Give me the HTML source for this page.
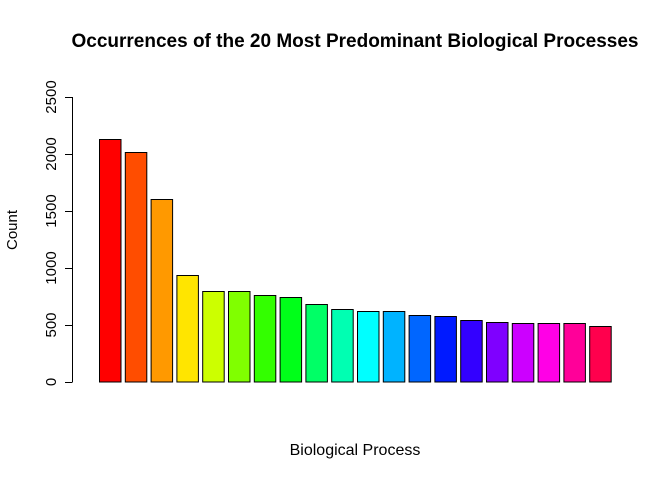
<!DOCTYPE html>
<html><head><meta charset="utf-8"><style>body{margin:0;background:#fff}svg{display:block}</style></head>
<body>
<svg width="672" height="480" xmlns="http://www.w3.org/2000/svg" font-family="Liberation Sans, sans-serif">
<rect width="672" height="480" fill="#fff"/>
<text x="355" y="47" text-anchor="middle" font-size="19" font-weight="bold">Occurrences of the 20 Most Predominant Biological Processes</text>
<text x="355" y="455" text-anchor="middle" font-size="16">Biological Process</text>
<text transform="translate(17,230) rotate(-90)" text-anchor="middle" font-size="15">Count</text>
<g stroke="#000" stroke-width="1" fill="none">
<line x1="72.5" y1="97" x2="72.5" y2="382"/>
<line x1="65" y1="382.5" x2="72.5" y2="382.5"/>
<line x1="65" y1="325.5" x2="72.5" y2="325.5"/>
<line x1="65" y1="268.5" x2="72.5" y2="268.5"/>
<line x1="65" y1="211.5" x2="72.5" y2="211.5"/>
<line x1="65" y1="154.5" x2="72.5" y2="154.5"/>
<line x1="65" y1="97.5" x2="72.5" y2="97.5"/>
</g>
<g font-size="15" text-anchor="middle">
<text transform="translate(56,382) rotate(-90)">0</text>
<text transform="translate(56,325) rotate(-90)">500</text>
<text transform="translate(56,268) rotate(-90)">1000</text>
<text transform="translate(56,211) rotate(-90)">1500</text>
<text transform="translate(56,154) rotate(-90)">2000</text>
<text transform="translate(56,97) rotate(-90)">2500</text>
</g>
<g stroke="#000" stroke-width="1">
<rect x="99.5" y="139.5" width="21.5" height="242.5" fill="#FF0000"/>
<rect x="125.3" y="152.5" width="21.5" height="229.5" fill="#FF4D00"/>
<rect x="151.1" y="199.5" width="21.5" height="182.5" fill="#FF9900"/>
<rect x="176.9" y="275.5" width="21.5" height="106.5" fill="#FFE500"/>
<rect x="202.7" y="291.5" width="21.5" height="90.5" fill="#CCFF00"/>
<rect x="228.5" y="291.5" width="21.5" height="90.5" fill="#80FF00"/>
<rect x="254.3" y="295.5" width="21.5" height="86.5" fill="#33FF00"/>
<rect x="280.1" y="297.5" width="21.5" height="84.5" fill="#00FF19"/>
<rect x="305.9" y="304.5" width="21.5" height="77.5" fill="#00FF66"/>
<rect x="331.7" y="309.5" width="21.5" height="72.5" fill="#00FFB2"/>
<rect x="357.5" y="311.5" width="21.5" height="70.5" fill="#00FFFF"/>
<rect x="383.3" y="311.5" width="21.5" height="70.5" fill="#00B3FF"/>
<rect x="409.1" y="315.5" width="21.5" height="66.5" fill="#0066FF"/>
<rect x="434.9" y="316.5" width="21.5" height="65.5" fill="#001AFF"/>
<rect x="460.7" y="320.5" width="21.5" height="61.5" fill="#3300FF"/>
<rect x="486.5" y="322.5" width="21.5" height="59.5" fill="#7F00FF"/>
<rect x="512.3" y="323.5" width="21.5" height="58.5" fill="#CC00FF"/>
<rect x="538.1" y="323.5" width="21.5" height="58.5" fill="#FF00E6"/>
<rect x="563.9" y="323.5" width="21.5" height="58.5" fill="#FF0099"/>
<rect x="589.7" y="326.5" width="21.5" height="55.5" fill="#FF004D"/>
</g>
</svg>
</body></html>
